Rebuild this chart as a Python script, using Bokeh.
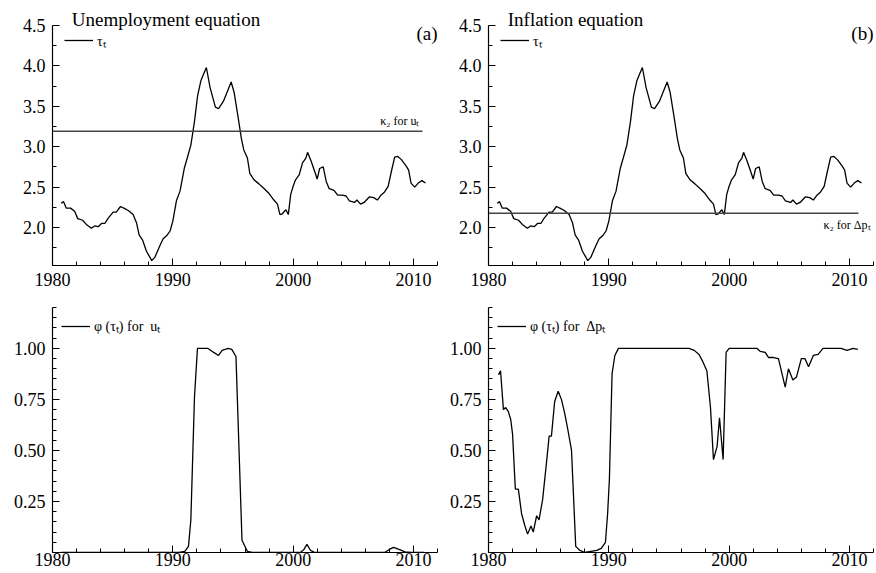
from bokeh.plotting import figure
from bokeh.layouts import gridplot
from bokeh.models import (FixedTicker, NumeralTickFormatter, Range1d, Legend,
                          LegendItem, Label)
from bokeh.embed import file_html
from bokeh.resources import INLINE

# ---------------- data ----------------
tau_years = [1980.72, 1980.92, 1981.14, 1981.5, 1981.84, 1982.1, 1982.5, 1982.87, 1983.23, 1983.5,
             1983.8, 1984.07, 1984.35, 1984.6, 1985.04, 1985.3, 1985.65, 1985.93, 1986.3, 1986.7,
             1986.98, 1987.2, 1987.5, 1987.8, 1988.25, 1988.5, 1988.94, 1989.2, 1989.5, 1989.78,
             1990.0, 1990.3, 1990.6, 1990.95, 1991.2, 1991.5, 1991.8, 1992.06, 1992.34, 1992.56,
             1992.79, 1993.1, 1993.54, 1993.8, 1994.2, 1994.5, 1994.85, 1995.1, 1995.4, 1995.7,
             1995.9, 1996.2, 1996.4, 1996.75, 1997.16, 1997.6, 1998.0, 1998.4, 1998.7, 1998.9,
             1999.1, 1999.4, 1999.6, 1999.8, 2000.0, 2000.2, 2000.5, 2000.78, 2001.06, 2001.2,
             2001.5, 2001.8, 2002.0, 2002.2, 2002.5, 2002.75, 2003.0, 2003.4, 2003.7, 2004.1,
             2004.4, 2004.68, 2005.1, 2005.3, 2005.6, 2005.9, 2006.35, 2006.7, 2007.0, 2007.3,
             2007.6, 2007.9, 2008.16, 2008.44, 2008.7, 2009.0, 2009.4, 2009.6, 2009.8, 2010.1,
             2010.4, 2010.7, 2011.0]
tau_values = [2.30, 2.32, 2.24, 2.24, 2.20, 2.11, 2.09, 2.03, 1.99, 2.02,
              2.01, 2.05, 2.05, 2.11, 2.19, 2.19, 2.26, 2.24, 2.21, 2.16,
              2.06, 1.91, 1.84, 1.71, 1.59, 1.63, 1.78, 1.86, 1.90, 1.96,
              2.08, 2.33, 2.45, 2.73, 2.86, 3.02, 3.31, 3.63, 3.82, 3.90,
              3.98, 3.73, 3.49, 3.47, 3.56, 3.67, 3.80, 3.67, 3.39, 3.10,
              2.96, 2.86, 2.67, 2.59, 2.54, 2.48, 2.42, 2.34, 2.29, 2.16,
              2.17, 2.22, 2.16, 2.41, 2.51, 2.59, 2.65, 2.80, 2.86, 2.93,
              2.82, 2.69, 2.60, 2.73, 2.75, 2.57, 2.48, 2.46, 2.40, 2.40,
              2.39, 2.33, 2.31, 2.34, 2.29, 2.31, 2.38, 2.37, 2.34, 2.40,
              2.44, 2.51, 2.69, 2.87, 2.88, 2.84, 2.76, 2.71, 2.55, 2.50,
              2.55, 2.58, 2.55]

kappa_x = [1980.0, 2010.75]
kappa_u = 3.19
kappa_dp = 2.175

phi_u_years = [1980.72, 1985.0, 1990.5, 1991.0, 1991.3, 1991.5, 1991.8, 1992.05, 1992.9, 1993.4,
               1993.8, 1994.1, 1994.6, 1994.9, 1995.25, 1995.75, 1996.2, 1996.6, 2000.6, 2000.9,
               2001.15, 2001.45, 2001.8, 2007.6, 2008.0, 2008.35, 2008.8, 2009.3, 2009.8, 2010.9]
phi_u_values = [0.0, 0.0, 0.0, 0.005, 0.03, 0.16, 0.76, 1.0, 1.0, 0.98,
                0.965, 0.99, 1.0, 0.995, 0.96, 0.06, 0.005, 0.0, 0.0, 0.015,
                0.04, 0.01, 0.0, 0.0, 0.015, 0.025, 0.015, 0.003, 0.0, 0.0]

phi_dp_years = [1980.83, 1981.0, 1981.24, 1981.43, 1981.65, 1981.85, 1982.0, 1982.23, 1982.48, 1982.75,
                1983.03, 1983.25, 1983.53, 1983.72, 1984.0, 1984.2, 1984.5, 1984.82, 1985.04, 1985.23,
                1985.5, 1985.79, 1986.06, 1986.34, 1986.6, 1986.9, 1987.25, 1987.6, 1988.0, 1989.0,
                1989.37, 1989.72, 1989.9, 1990.05, 1990.27, 1990.5, 1990.8, 1996.67, 1997.1, 1997.5,
                1997.77, 1998.0, 1998.15, 1998.45, 1998.7, 1999.0, 1999.2, 1999.5, 1999.75, 2000.0,
                2002.3, 2002.6, 2003.0, 2003.28, 2003.7, 2004.1, 2004.66, 2004.93, 2005.3, 2005.6,
                2006.0, 2006.3, 2006.6, 2007.0, 2007.4, 2007.8, 2009.3, 2009.8, 2010.3, 2010.7]
phi_dp_values = [0.87, 0.89, 0.70, 0.71, 0.69, 0.65, 0.58, 0.31, 0.31, 0.19,
                 0.13, 0.09, 0.13, 0.10, 0.18, 0.16, 0.26, 0.44, 0.57, 0.57,
                 0.74, 0.79, 0.75, 0.68, 0.60, 0.50, 0.03, 0.01, 0.0, 0.01,
                 0.02, 0.05, 0.19, 0.36, 0.875, 0.965, 1.0, 1.0, 0.99, 0.97,
                 0.94, 0.91, 0.89, 0.71, 0.455, 0.52, 0.66, 0.455, 0.98, 1.0,
                 1.0, 0.985, 0.98, 0.955, 0.955, 0.95, 0.81, 0.90, 0.845, 0.86,
                 0.95, 0.95, 0.91, 0.965, 0.97, 1.0, 1.0, 0.99, 1.0, 0.995]

x_major = [1980, 1990, 2000, 2010]
x_minor = list(range(1980, 2013, 2))
top_major = [2.0, 2.5, 3.0, 3.5, 4.0, 4.5]
top_minor = [1.75, 2.25, 2.75, 3.25, 3.75, 4.25]
bot_major = [0.25, 0.50, 0.75, 1.00]
bot_minor = [round(0.05 * i, 2) for i in range(1, 25)]

SERIF = "Liberation Serif"
TICK_SIZE = "18px"

TOP_AXIS = (1.53, 4.5)      # drawn extent of the upper y axes
TOP_VIEW = (1.53, 4.71)     # visible range (room for the headings)
BOT_AXIS = (0.0, 1.2)


def make_fig(width, height, left, right, top, bottom, view, bounds, ymaj, ymin, fmt, xstand):
    p = figure(width=width, height=height, output_backend="svg", toolbar_location=None,
               x_range=Range1d(1980, 2012), y_range=Range1d(*view),
               min_border_left=left, min_border_right=right,
               min_border_top=top, min_border_bottom=bottom)
    p.outline_line_color = None
    p.grid.visible = False
    p.background_fill_color = "white"
    p.border_fill_color = "white"
    for ax, maj, mnr in ((p.xaxis[0], x_major, x_minor), (p.yaxis[0], ymaj, ymin)):
        ax.ticker = FixedTicker(ticks=maj, minor_ticks=mnr)
        ax.axis_line_color = "black"
        ax.axis_line_width = 1.2
        ax.major_tick_line_color = "black"
        ax.minor_tick_line_color = "black"
        ax.major_tick_in = 7
        ax.major_tick_out = 0
        ax.minor_tick_in = 4
        ax.minor_tick_out = 0
        ax.major_label_text_font = SERIF
        ax.major_label_text_font_size = TICK_SIZE
        ax.major_label_text_color = "black"
    p.yaxis[0].bounds = bounds
    p.xaxis[0].major_label_standoff = xstand
    p.yaxis[0].major_label_standoff = 7
    p.yaxis[0].formatter = NumeralTickFormatter(format=fmt)
    return p


def add_legend(p, renderer, label, padding, item_h):
    leg = Legend(items=[LegendItem(label=label, renderers=[renderer])],
                 location="top_left", margin=0, padding=padding,
                 border_line_alpha=0, background_fill_alpha=0,
                 glyph_width=29, glyph_height=item_h, label_height=item_h,
                 label_standoff=4,
                 label_text_font=SERIF, label_text_font_size="14px",
                 label_text_color="black")
    p.add_layout(leg)


def add_text(p, x, y, text, size, align, baseline, yoff=0):
    p.add_layout(Label(x=x, y=y, text=text, text_font=SERIF, text_font_size=size,
                       text_align=align, text_baseline=baseline, y_offset=yoff,
                       text_color="black"))


# ---------------- top-left ----------------
p1 = make_fig(445, 295, 52, 8, 8, 30, TOP_VIEW, TOP_AXIS, top_major, top_minor, "0.0", 7)
r1 = p1.line(tau_years, tau_values, line_color="black", line_width=1.3)
p1.line(kappa_x, [kappa_u, kappa_u], line_color="#444444", line_width=1.5)
add_legend(p1, r1, "τₜ", 12, 40)
add_text(p1, 1981.6, 4.5, "Unemployment equation", "19px", "left", "middle", 6)
add_text(p1, 2012, 4.5, "(a)", "19px", "right", "middle", -8)
add_text(p1, kappa_x[1], kappa_u, "κ₂ for  uₜ", "12px", "right", "bottom", 3)

# ---------------- top-right ----------------
p2 = make_fig(430, 295, 43, 2, 8, 30, TOP_VIEW, TOP_AXIS, top_major, top_minor, "0.0", 7)
r2 = p2.line(tau_years, tau_values, line_color="black", line_width=1.3)
p2.line(kappa_x, [kappa_dp, kappa_dp], line_color="#444444", line_width=1.5)
add_legend(p2, r2, "τₜ", 12, 40)
add_text(p2, 1981.6, 4.5, "Inflation equation", "19px", "left", "middle", 6)
add_text(p2, 2012, 4.5, "(b)", "19px", "right", "middle", -8)
add_text(p2, 2012, kappa_dp, "κ₂ for  Δpₜ", "12px", "right", "top", -5)

# ---------------- bottom-left ----------------
p3 = make_fig(445, 278, 52, 8, 12, 21, BOT_AXIS, BOT_AXIS, bot_major, bot_minor, "0.00", 0)
r3 = p3.line(phi_u_years, phi_u_values, line_color="black", line_width=1.3)
add_legend(p3, r3, "φ (τₜ) for  uₜ", 9, 14)

# ---------------- bottom-right ----------------
p4 = make_fig(430, 278, 43, 2, 12, 21, BOT_AXIS, BOT_AXIS, bot_major, bot_minor, "0.00", 0)
r4 = p4.line(phi_dp_years, phi_dp_values, line_color="black", line_width=1.3)
add_legend(p4, r4, "φ (τₜ) for  Δpₜ", 9, 14)

grid = gridplot([[p1, p2], [p3, p4]], toolbar_location=None)

open("out.html", "w").write(file_html(grid, INLINE))
